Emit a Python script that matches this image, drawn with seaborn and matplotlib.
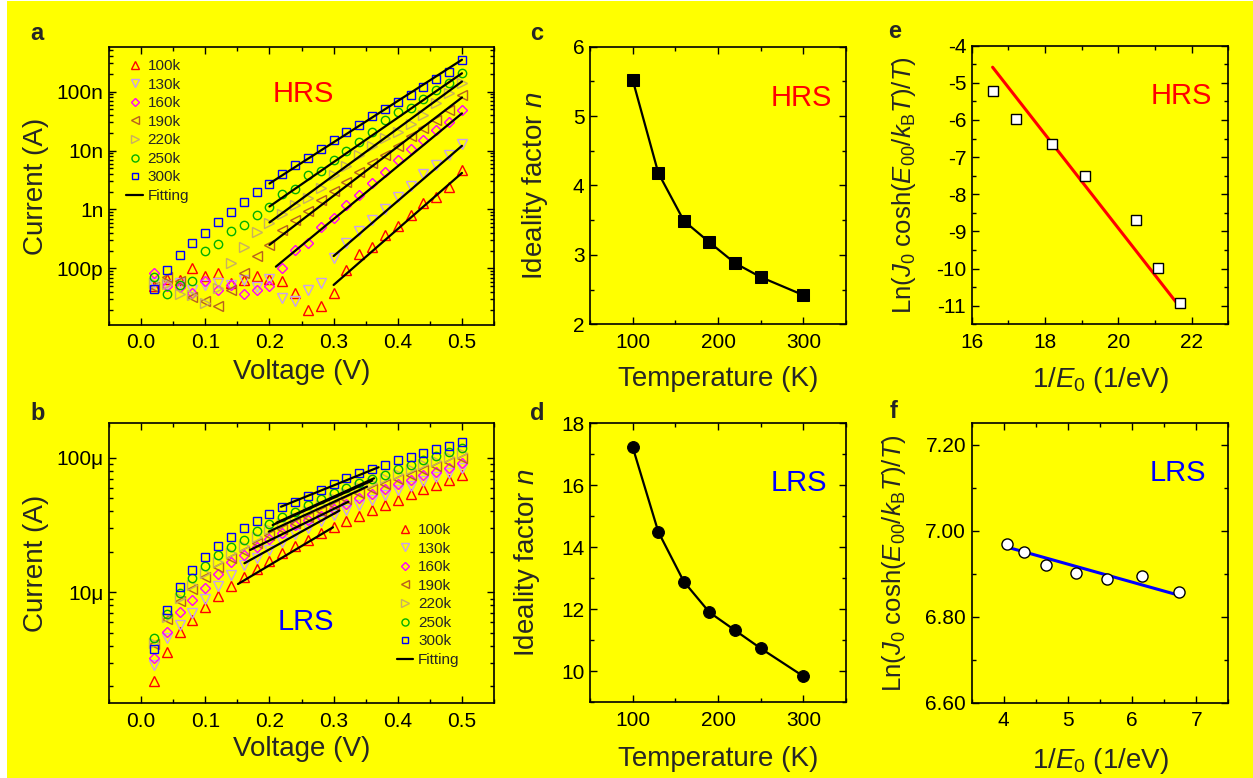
import numpy as np
import pandas as pd
import matplotlib
matplotlib.use("Agg")
import matplotlib.pyplot as plt
import seaborn as sns
from matplotlib.ticker import (MultipleLocator, FixedLocator, LogLocator,
                               NullFormatter, FixedFormatter, FormatStrFormatter)
from matplotlib.patches import Rectangle
from matplotlib.lines import Line2D

# ------------------------------------------------------------------ data
voltage = [0.02, 0.04, 0.06, 0.08, 0.10, 0.12, 0.14, 0.16, 0.18, 0.20, 0.22, 0.24,
           0.26, 0.28, 0.30, 0.32, 0.34, 0.36, 0.38, 0.40, 0.42, 0.44, 0.46, 0.48, 0.50]
temp_labels = ["100k", "130k", "160k", "190k", "220k", "250k", "300k"]

# HRS current, log10(I / A)
hrs_100k = [-10.29, -10.18, -10.19, -9.99, -10.12, -10.08, -10.24, -10.19, -10.12, -10.18, -10.21, -10.42,
            -10.70, -10.64, -10.41, -10.02, -9.75, -9.64, -9.44, -9.28, -9.09, -8.89, -8.78, -8.62, -8.33]
hrs_130k = [-10.25, -10.28, -10.24, -10.36, -10.28, -10.25, -10.28, -10.19, -10.31, -10.18, -10.50, -10.56,
            -10.36, -10.25, -9.82, -9.56, -9.36, -9.18, -8.99, -8.78, -8.60, -8.40, -8.25, -8.08, -7.89]
hrs_160k = [-10.08, -10.29, -10.31, -10.42, -10.22, -10.36, -10.28, -10.43, -10.37, -10.29, -9.99, -9.69,
            -9.57, -9.29, -9.15, -8.92, -8.75, -8.55, -8.37, -8.16, -7.97, -7.83, -7.66, -7.51, -7.32]
hrs_190k = [-10.32, -10.14, -10.22, -10.49, -10.56, -10.63, -10.37, -10.08, -9.79, -9.60, -9.34, -9.18,
            -9.03, -8.84, -8.68, -8.53, -8.37, -8.21, -8.07, -7.93, -7.76, -7.62, -7.49, -7.31, -7.05]
hrs_220k = [-10.24, -10.26, -10.43, -10.45, -10.58, -10.34, -9.91, -9.63, -9.39, -9.23, -9.07, -8.92,
            -8.81, -8.64, -8.42, -8.27, -8.08, -7.93, -7.79, -7.68, -7.55, -7.40, -7.19, -7.02, -6.86]
hrs_250k = [-10.15, -10.43, -10.28, -10.22, -9.71, -9.59, -9.36, -9.26, -9.10, -8.95, -8.73, -8.65,
            -8.42, -8.34, -8.16, -8.00, -7.85, -7.68, -7.49, -7.35, -7.28, -7.13, -6.98, -6.85, -6.69]
hrs_300k = [-10.35, -10.02, -9.77, -9.57, -9.40, -9.22, -9.05, -8.88, -8.71, -8.56, -8.40, -8.25,
            -8.12, -7.97, -7.82, -7.69, -7.56, -7.42, -7.29, -7.18, -7.05, -6.92, -6.79, -6.67, -6.47]

# HRS fitting line end points (V, log10 I)
fit_hrs_v_start = [0.30, 0.30, 0.21, 0.20, 0.20, 0.20, 0.20]
fit_hrs_v_end = [0.50, 0.50, 0.50, 0.50, 0.50, 0.50, 0.50]
fit_hrs_log_start = [-10.28, -9.79, -9.97, -9.60, -9.22, -8.95, -8.56]
fit_hrs_log_end = [-8.38, -7.92, -7.37, -7.10, -6.83, -6.69, -6.46]

# LRS current, log10(I / A)
lrs_100k = [-5.656, -5.441, -5.297, -5.205, -5.106, -5.025, -4.950, -4.889, -4.827, -4.767, -4.710, -4.656,
            -4.611, -4.562, -4.512, -4.468, -4.431, -4.389, -4.351, -4.314, -4.270, -4.233, -4.203, -4.166, -4.129]
lrs_130k = [-5.540, -5.342, -5.243, -5.151, -5.052, -4.953, -4.871, -4.797, -4.748, -4.686, -4.624, -4.567,
            -4.525, -4.468, -4.426, -4.389, -4.351, -4.314, -4.277, -4.240, -4.208, -4.171, -4.141, -4.111, -4.079]
lrs_160k = [-5.490, -5.292, -5.144, -5.057, -4.965, -4.864, -4.772, -4.723, -4.666, -4.606, -4.557, -4.500,
            -4.463, -4.433, -4.384, -4.347, -4.302, -4.272, -4.235, -4.196, -4.166, -4.129, -4.104, -4.079, -4.042]
lrs_190k = [-5.384, -5.200, -5.062, -4.978, -4.889, -4.809, -4.743, -4.691, -4.636, -4.574, -4.532, -4.483,
            -4.438, -4.394, -4.351, -4.309, -4.265, -4.230, -4.196, -4.161, -4.129, -4.092, -4.062, -4.030, -4.005]
lrs_220k = [-5.379, -5.181, -5.045, -4.946, -4.854, -4.777, -4.710, -4.656, -4.587, -4.532, -4.488, -4.438,
            -4.394, -4.351, -4.302, -4.260, -4.220, -4.191, -4.153, -4.121, -4.087, -4.047, -4.022, -3.993, -3.963]
lrs_250k = [-5.342, -5.161, -5.007, -4.896, -4.804, -4.723, -4.666, -4.611, -4.542, -4.495, -4.443, -4.401,
            -4.351, -4.309, -4.265, -4.223, -4.186, -4.156, -4.129, -4.087, -4.054, -4.017, -3.988, -3.955, -3.931]
lrs_300k = [-5.421, -5.131, -4.958, -4.834, -4.735, -4.653, -4.587, -4.525, -4.468, -4.418, -4.369, -4.327,
            -4.285, -4.240, -4.198, -4.153, -4.111, -4.082, -4.052, -4.020, -3.993, -3.963, -3.938, -3.911, -3.886]

fit_lrs_v_start = [0.151, 0.161, 0.170, 0.199, 0.205, 0.211, 0.218]
fit_lrs_v_end = [0.299, 0.309, 0.323, 0.352, 0.360, 0.363, 0.370]
fit_lrs_log_start = [-4.938, -4.784, -4.685, -4.549, -4.500, -4.483, -4.364]
fit_lrs_log_end = [-4.517, -4.393, -4.327, -4.215, -4.170, -4.153, -4.071]

# ideality factor vs temperature
temperature = [100, 130, 160, 190, 220, 250, 300]
n_hrs = [5.52, 4.18, 3.49, 3.18, 2.88, 2.68, 2.42]
n_lrs = [17.23, 14.50, 12.89, 11.90, 11.32, 10.74, 9.84]

# Ln(J0 cosh(E00/kBT)/T) vs 1/E0
inv_e0_hrs = [16.57, 17.21, 18.19, 19.09, 20.47, 21.08, 21.69]
ln_hrs = [-5.21, -5.97, -6.65, -7.50, -8.68, -9.98, -10.94]
fit_e_x = [16.57, 21.69]
fit_e_y = [-4.58, -11.05]

inv_e0_lrs = [4.05, 4.32, 4.66, 5.13, 5.61, 6.15, 6.73]
ln_lrs = [6.970, 6.951, 6.920, 6.902, 6.888, 6.894, 6.858]
fit_f_x = [4.05, 6.73]
fit_f_y = [6.962, 6.850]

# ------------------------------------------------------------------ style
sns.set_theme(style="ticks")
YELLOW = "#FFFF00"
plt.rcParams.update({
    "font.family": ["Liberation Sans", "DejaVu Sans"],
    "mathtext.fontset": "custom",
    "mathtext.rm": "Liberation Sans",
    "mathtext.it": "Liberation Sans:italic",
    "mathtext.bf": "Liberation Sans:bold",
    "axes.unicode_minus": False,
    "axes.facecolor": YELLOW,
    "axes.edgecolor": "black",
    "axes.linewidth": 1.2,
})

markers = {"100k": "^", "130k": "v", "160k": "D", "190k": "<", "220k": ">", "250k": "o", "300k": "s"}
msizes = {"100k": 6.5, "130k": 6.5, "160k": 5.2, "190k": 6.5, "220k": 6.5, "250k": 6.0, "300k": 5.5}
colors = {"100k": "#FF0000", "130k": "#C8A0F0", "160k": "#FF00FF", "190k": "#B8601E",
          "220k": "#C8B060", "250k": "#00B000", "300k": "#0000FF"}

TICK_FS = 15
LABEL_FS = 20
LN_LABEL_FS = 18.5
TAG_FS = 21

fig = plt.figure(figsize=(12.53, 7.78), dpi=100, facecolor="white")
fig.patches.append(Rectangle((7 / 1253, 0), 1 - 7 / 1253, 1 - 1 / 778, transform=fig.transFigure,
                             facecolor=YELLOW, edgecolor="none", zorder=-10))

ax_a = fig.add_axes([0.0870, 0.5823, 0.3073, 0.3573])
ax_b = fig.add_axes([0.0870, 0.0960, 0.3073, 0.3599])
ax_c = fig.add_axes([0.4709, 0.5832, 0.2043, 0.3568])
ax_d = fig.add_axes([0.4709, 0.0973, 0.2043, 0.3586])
ax_e = fig.add_axes([0.7755, 0.5832, 0.2048, 0.3581])
ax_f = fig.add_axes([0.7755, 0.0968, 0.2048, 0.3591])


def style_ticks(ax):
    ax.tick_params(which="both", direction="in", top=True, right=True,
                   labelsize=TICK_FS, colors="black", width=1.0)
    ax.tick_params(which="major", length=5)
    ax.tick_params(which="minor", length=3)
    ax.tick_params(axis="x", which="major", pad=6)
    ax.tick_params(axis="y", which="major", pad=4)
    for s in ax.spines.values():
        s.set_visible(True)
        s.set_linewidth(1.2)
        s.set_color("black")


def iv_panel(ax, series, fit_vs, fit_ve, fit_ls, fit_le):
    ax.set_yscale("log")
    for lbl, logs in zip(temp_labels, series):
        cur = [10.0 ** v for v in logs]
        sns.lineplot(x=voltage, y=cur, ax=ax, marker=markers[lbl], linestyle="",
                     markersize=msizes[lbl], markerfacecolor="none",
                     markeredgecolor=colors[lbl], markeredgewidth=1.0,
                     color=colors[lbl], label=lbl, estimator=None, sort=False, legend=False)
    rows = []
    for lbl, vs, ve, ls, le in zip(temp_labels, fit_vs, fit_ve, fit_ls, fit_le):
        rows.append({"V": vs, "I": 10.0 ** ls, "T": lbl})
        rows.append({"V": ve, "I": 10.0 ** le, "T": lbl})
    fit_df = pd.DataFrame(rows)
    sns.lineplot(data=fit_df, x="V", y="I", units="T", estimator=None, ax=ax,
                 color="black", linewidth=1.6, legend=False, sort=False)
    ax.set_xlim(-0.05, 0.55)
    ax.xaxis.set_major_locator(MultipleLocator(0.1))
    ax.xaxis.set_minor_locator(MultipleLocator(0.05))
    ax.xaxis.set_major_formatter(FormatStrFormatter("%.1f"))
    style_ticks(ax)
    ax.set_xlabel("Voltage (V)", fontsize=LABEL_FS)
    ax.set_ylabel("Current (A)", fontsize=LABEL_FS)
    handles, labels = [], []
    for lbl in temp_labels:
        handles.append(Line2D([], [], linestyle="", marker=markers[lbl], markersize=msizes[lbl] * 0.85,
                              markerfacecolor="none", markeredgecolor=colors[lbl], markeredgewidth=1.0))
        labels.append(lbl)
    handles.append(Line2D([], [], color="black", linewidth=1.6))
    labels.append("Fitting")
    return handles, labels


# ---- panel a
h, l = iv_panel(ax_a, [hrs_100k, hrs_130k, hrs_160k, hrs_190k, hrs_220k, hrs_250k, hrs_300k],
                fit_hrs_v_start, fit_hrs_v_end, fit_hrs_log_start, fit_hrs_log_end)
ax_a.set_ylim(1.1e-11, 5.7e-7)
ax_a.yaxis.set_major_locator(FixedLocator([1e-10, 1e-9, 1e-8, 1e-7]))
ax_a.yaxis.set_major_formatter(FixedFormatter(["100p", "1n", "10n", "100n"]))
ax_a.yaxis.set_minor_locator(LogLocator(base=10, subs=np.arange(2, 10), numticks=20))
ax_a.yaxis.set_minor_formatter(NullFormatter())
ax_a.legend(h, l, loc="upper left", bbox_to_anchor=(0.045, 0.957), frameon=False, fontsize=11,
            borderpad=0, borderaxespad=0, handlelength=1.1, handletextpad=0.3, labelspacing=0.3)
ax_a.text(0.504, 0.831, "HRS", transform=ax_a.transAxes, color="#FF0000", fontsize=TAG_FS,
          ha="center", va="center")
ax_a.xaxis.set_label_coords(0.5, -0.122)
ax_a.yaxis.set_label_coords(-0.155, 0.5)

# ---- panel b
h, l = iv_panel(ax_b, [lrs_100k, lrs_130k, lrs_160k, lrs_190k, lrs_220k, lrs_250k, lrs_300k],
                fit_lrs_v_start, fit_lrs_v_end, fit_lrs_log_start, fit_lrs_log_end)
ax_b.set_ylim(1.5e-6, 1.8e-4)
ax_b.yaxis.set_major_locator(FixedLocator([1e-5, 1e-4]))
ax_b.yaxis.set_major_formatter(FixedFormatter(["10\u03bc", "100\u03bc"]))
ax_b.yaxis.set_minor_locator(LogLocator(base=10, subs=np.arange(2, 10), numticks=20))
ax_b.yaxis.set_minor_formatter(NullFormatter())
ax_b.legend(h, l, loc="upper left", bbox_to_anchor=(0.747, 0.644), frameon=False, fontsize=11,
            borderpad=0, borderaxespad=0, handlelength=1.1, handletextpad=0.3, labelspacing=0.3)
ax_b.text(0.512, 0.290, "LRS", transform=ax_b.transAxes, color="#0000FF", fontsize=TAG_FS,
          ha="center", va="center")
ax_b.xaxis.set_label_coords(0.5, -0.117)
ax_b.yaxis.set_label_coords(-0.155, 0.5)

# ---- panel c
sns.lineplot(x=temperature, y=n_hrs, ax=ax_c, color="black", linewidth=1.6, marker="s",
             markersize=8, markerfacecolor="black", markeredgecolor="black", estimator=None, sort=False)
ax_c.set_xlim(50, 350)
ax_c.set_ylim(2, 6)
ax_c.xaxis.set_major_locator(MultipleLocator(100))
ax_c.xaxis.set_minor_locator(MultipleLocator(50))
ax_c.yaxis.set_major_locator(MultipleLocator(1))
ax_c.yaxis.set_minor_locator(MultipleLocator(0.5))
style_ticks(ax_c)
ax_c.set_xlabel("Temperature (K)", fontsize=LABEL_FS)
ax_c.set_ylabel("Ideality factor $n$", fontsize=LABEL_FS)
ax_c.text(0.824, 0.815, "HRS", transform=ax_c.transAxes, color="#FF0000", fontsize=TAG_FS,
          ha="center", va="center")
ax_c.xaxis.set_label_coords(0.5, -0.150)
ax_c.yaxis.set_label_coords(-0.156, 0.5)

# ---- panel d
sns.lineplot(x=temperature, y=n_lrs, ax=ax_d, color="black", linewidth=1.6, marker="o",
             markersize=8.5, markerfacecolor="black", markeredgecolor="black", estimator=None, sort=False)
ax_d.set_xlim(50, 350)
ax_d.set_ylim(9, 18)
ax_d.xaxis.set_major_locator(MultipleLocator(100))
ax_d.xaxis.set_minor_locator(MultipleLocator(50))
ax_d.yaxis.set_major_locator(MultipleLocator(2))
ax_d.yaxis.set_minor_locator(MultipleLocator(1))
style_ticks(ax_d)
ax_d.set_xlabel("Temperature (K)", fontsize=LABEL_FS)
ax_d.set_ylabel("Ideality factor $n$", fontsize=LABEL_FS)
ax_d.text(0.814, 0.785, "LRS", transform=ax_d.transAxes, color="#0000FF", fontsize=TAG_FS,
          ha="center", va="center")
ax_d.xaxis.set_label_coords(0.5, -0.158)
ax_d.yaxis.set_label_coords(-0.1875, 0.5)

ln_label = r"Ln($J_0$ cosh($E_{00}$/$k_\mathrm{B}T$)/$T$)"

# ---- panel e
sns.lineplot(x=fit_e_x, y=fit_e_y, ax=ax_e, color="#FF0000", linewidth=2.2, estimator=None, sort=False)
sns.lineplot(x=inv_e0_hrs, y=ln_hrs, ax=ax_e, linestyle="", marker="s", markersize=7.5,
             markerfacecolor="white", markeredgecolor="black", markeredgewidth=1.0,
             estimator=None, sort=False)
ax_e.set_xlim(16, 23)
ax_e.set_ylim(-11.5, -4)
ax_e.xaxis.set_major_locator(MultipleLocator(2))
ax_e.xaxis.set_minor_locator(MultipleLocator(1))
ax_e.yaxis.set_major_locator(MultipleLocator(1))
ax_e.yaxis.set_minor_locator(MultipleLocator(0.5))
ax_e.yaxis.set_major_formatter(FormatStrFormatter("%d"))
style_ticks(ax_e)
ax_e.set_xlabel("1/$E_0$ (1/eV)", fontsize=LABEL_FS)
ax_e.set_ylabel(ln_label, fontsize=LN_LABEL_FS)
ax_e.text(0.818, 0.821, "HRS", transform=ax_e.transAxes, color="#FF0000", fontsize=TAG_FS,
          ha="center", va="center")
ax_e.xaxis.set_label_coords(0.5, -0.147)
ax_e.yaxis.set_label_coords(-0.209, 0.5)

# ---- panel f
sns.lineplot(x=fit_f_x, y=fit_f_y, ax=ax_f, color="#0000FF", linewidth=2.2, estimator=None, sort=False)
sns.lineplot(x=inv_e0_lrs, y=ln_lrs, ax=ax_f, linestyle="", marker="o", markersize=8,
             markerfacecolor="white", markeredgecolor="black", markeredgewidth=1.0,
             estimator=None, sort=False)
ax_f.set_xlim(3.5, 7.5)
ax_f.set_ylim(6.6, 7.25)
ax_f.xaxis.set_major_locator(MultipleLocator(1))
ax_f.xaxis.set_minor_locator(MultipleLocator(0.5))
ax_f.yaxis.set_major_locator(MultipleLocator(0.2))
ax_f.yaxis.set_minor_locator(MultipleLocator(0.1))
ax_f.yaxis.set_major_formatter(FormatStrFormatter("%.2f"))
style_ticks(ax_f)
ax_f.set_xlabel("1/$E_0$ (1/eV)", fontsize=LABEL_FS)
ax_f.set_ylabel(ln_label, fontsize=LN_LABEL_FS)
ax_f.text(0.805, 0.821, "LRS", transform=ax_f.transAxes, color="#0000FF", fontsize=TAG_FS,
          ha="center", va="center")
ax_f.xaxis.set_label_coords(0.5, -0.155)
ax_f.yaxis.set_label_coords(-0.248, 0.5)

# ---- panel letters
for letter, x, y in [("a", 30, 40), ("b", 30, 420), ("c", 530, 40),
                     ("d", 530, 420), ("e", 888, 38), ("f", 890, 418)]:
    fig.text(x / 1253, 1 - y / 778, letter, fontsize=17, fontweight="bold", ha="left", va="baseline")

fig.savefig("out.png", dpi=100, facecolor=fig.get_facecolor())
